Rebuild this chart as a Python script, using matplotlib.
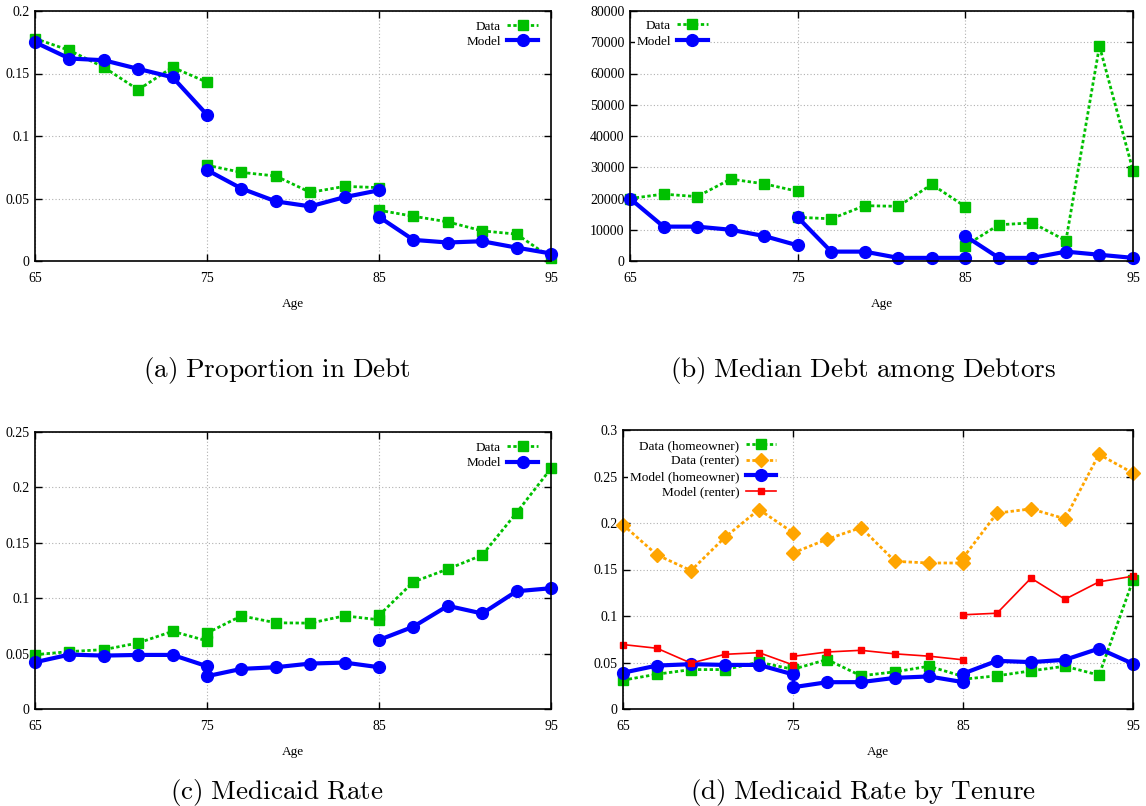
import matplotlib
matplotlib.use("Agg")
import matplotlib.pyplot as plt
from matplotlib.ticker import FormatStrFormatter
import numpy as np

plt.rcParams['font.family'] = ['Liberation Serif', 'DejaVu Serif']
plt.rcParams['mathtext.fontset'] = 'cm'

# ---- data ----
ages = [65, 67, 69, 71, 73, 75,
        75, 77, 79, 81, 83, 85,
        85, 87, 89, 91, 93, 95]
x_ticks = [65, 75, 85, 95]

debt_data = [0.178, 0.1685, 0.155, 0.137, 0.155, 0.143,
             0.0766, 0.0709, 0.068, 0.0549, 0.0597, 0.0587,
             0.0406, 0.0358, 0.0313, 0.0241, 0.0215, 0.0026]
debt_model = [0.175, 0.162, 0.1606, 0.1537, 0.147, 0.117,
              0.0728, 0.058, 0.0477, 0.0437, 0.0511, 0.0566,
              0.0353, 0.0169, 0.0148, 0.0158, 0.0107, 0.006]

med_data = [20000, 21400, 20600, 26200, 24700, 22300,
            14000, 13500, 17700, 17500, 24500, 17400,
            4900, 11600, 12200, 6500, 68800, 28900]
med_model = [20000, 11000, 11000, 10000, 8000, 5000,
             14000, 3000, 3000, 1000, 1000, 1000,
             8000, 1000, 1000, 3000, 2000, 1000]

mcd_data = [0.049, 0.0518, 0.0536, 0.0596, 0.0701, 0.0615,
            0.0685, 0.0841, 0.0778, 0.0775, 0.0841, 0.0805,
            0.0845, 0.1147, 0.1263, 0.1389, 0.1772, 0.2171]
mcd_model = [0.0422, 0.0491, 0.0482, 0.0488, 0.0488, 0.0386,
             0.0296, 0.0362, 0.0377, 0.041, 0.0419, 0.0377,
             0.0623, 0.0743, 0.0931, 0.0862, 0.1063, 0.109]

own_data = [0.031, 0.0374, 0.0424, 0.0424, 0.0503, 0.0427,
            0.0427, 0.0532, 0.0357, 0.040, 0.046, 0.035,
            0.032, 0.0357, 0.041, 0.046, 0.0364, 0.1385]
rent_data = [0.198, 0.1657, 0.1488, 0.1847, 0.2145, 0.1897,
             0.1678, 0.1825, 0.1951, 0.1588, 0.157, 0.157,
             0.1624, 0.2106, 0.2152, 0.2045, 0.2738, 0.2537]
own_model = [0.039, 0.0467, 0.0482, 0.0474, 0.0474, 0.0372,
             0.0234, 0.0288, 0.0289, 0.0335, 0.035, 0.0289,
             0.038, 0.0518, 0.0504, 0.0529, 0.065, 0.0486]
rent_model = [0.0693, 0.0653, 0.0493, 0.0588, 0.0606, 0.0474,
              0.0566, 0.0613, 0.0631, 0.0593, 0.0568, 0.0529,
              0.1013, 0.103, 0.1407, 0.118, 0.1367, 0.1428]

captions = [r'$\mathrm{(a)\ Proportion\ in\ Debt}$',
            r'$\mathrm{(b)\ Median\ Debt\ among\ Debtors}$',
            r'$\mathrm{(c)\ Medicaid\ Rate}$',
            r'$\mathrm{(d)\ Medicaid\ Rate\ by\ Tenure}$']

GREEN = '#00c000'
BLUE = '#0000ff'
RED = '#ff0000'
ORANGE = '#ffa500'

styles = {
    'data': dict(color=GREEN, lw=2.0, dashes=(1.2, 0.9), marker='s', ms=7.5,
                 mec=GREEN, mfc=GREEN),
    'model': dict(color=BLUE, lw=3.0, ls='-', marker='o', ms=8.5,
                  mec=BLUE, mfc=BLUE),
    'rent_data': dict(color=ORANGE, lw=2.0, dashes=(1.2, 0.9), marker='D', ms=7,
                      mec=ORANGE, mfc=ORANGE),
    'rent_model': dict(color=RED, lw=1.2, ls='-', marker='s', ms=4.5,
                       mec=RED, mfc=RED),
}

W, H = 1146, 806
fig = plt.figure(figsize=(W / 100, H / 100), dpi=100)


def px_axes(l, r, t, b):
    return fig.add_axes([l / W, 1 - b / H, (r - l) / W, (b - t) / H])


def plot_series(ax, y, key, label):
    st = styles[key]
    for k in range(3):
        sl = slice(6 * k, 6 * k + 6)
        ax.plot(ages[sl], y[sl], label=label if k == 0 else None,
                clip_on=False, **st)


def style_axes(ax, ymax, ystep):
    ax.set_xlim(65, 95)
    ax.set_ylim(0, ymax)
    ax.set_xticks(x_ticks)
    ax.set_yticks(np.arange(0, ymax + ystep / 2, ystep))
    ax.yaxis.set_major_formatter(FormatStrFormatter('%g'))
    ax.tick_params(direction='in', top=True, right=True, length=5,
                   width=1.0, labelsize=10)
    ax.tick_params(axis='x', pad=8)
    ax.tick_params(axis='y', pad=4)
    ax.grid(True, color='#b0b0b0', lw=0.8, ls=(0, (1, 2)))
    ax.set_axisbelow(True)
    for s in ax.spines.values():
        s.set_linewidth(1.2)
    ax.set_xlabel('Age', fontsize=9.5, labelpad=9)


def legend(ax, anchor):
    leg = ax.legend(loc='upper right', bbox_to_anchor=anchor,
                    markerfirst=False, numpoints=1, fontsize=9.5,
                    handlelength=2.3, handletextpad=0.5, labelspacing=0.25,
                    borderpad=0.1, borderaxespad=0, frameon=True,
                    fancybox=False, framealpha=1, edgecolor='none',
                    facecolor='white')
    return leg


# (a)
ax = px_axes(35, 551, 11, 261)
plot_series(ax, debt_data, 'data', 'Data')
plot_series(ax, debt_model, 'model', 'Model')
style_axes(ax, 0.2, 0.05)
legend(ax, (0.977, 0.968))

# (b)
ax = px_axes(630, 1133, 11, 261)
plot_series(ax, med_data, 'data', 'Data')
plot_series(ax, med_model, 'model', 'Model')
style_axes(ax, 80000, 10000)
legend(ax, (0.157, 0.970))

# (c)
ax = px_axes(35, 551, 432, 709)
plot_series(ax, mcd_data, 'data', 'Data')
plot_series(ax, mcd_model, 'model', 'Model')
style_axes(ax, 0.25, 0.05)
legend(ax, (0.977, 0.970))

# (d)
ax = px_axes(623, 1133, 430, 709)
plot_series(ax, own_data, 'data', 'Data (homeowner)')
plot_series(ax, rent_data, 'rent_data', 'Data (renter)')
plot_series(ax, own_model, 'model', 'Model (homeowner)')
plot_series(ax, rent_model, 'rent_model', 'Model (renter)')
style_axes(ax, 0.3, 0.05)
legend(ax, (0.303, 0.970))

cap_pos = [(277, 370), (863, 370), (277, 792), (863, 792)]
for (cx, cy), txt in zip(cap_pos, captions):
    fig.text(cx / W, 1 - cy / H, txt, ha='center', va='center', fontsize=19.5)

fig.savefig('out.png', dpi=100)
